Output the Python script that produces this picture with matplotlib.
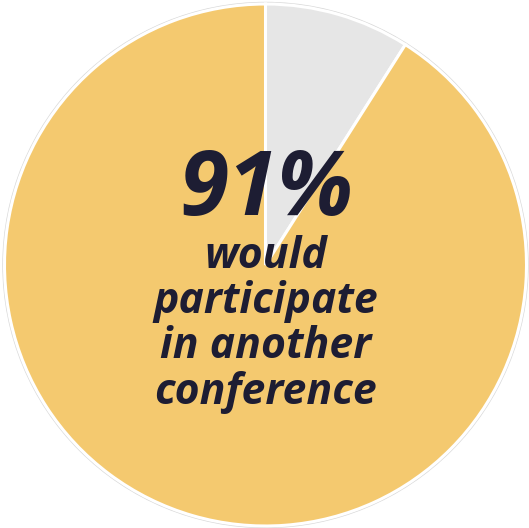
import matplotlib
matplotlib.use('Agg')
import matplotlib.pyplot as plt
from matplotlib.patches import Circle

# Data
labels = ['Would participate', 'Would not']
shares = [91, 9]
colors = ['#F4C96F', '#E6E6E6']
headline = '91%'
caption = ['would', 'participate', 'in another', 'conference']

W, H = 529, 528
fig = plt.figure(figsize=(W / 100, H / 100), dpi=100)
ax = fig.add_axes([0, 0, 1, 1])

cx, cy, r = 265.5, H - 265, 261

# faint outer ring
ax.add_patch(Circle((cx, cy), r + 1.5, facecolor='none', edgecolor='#d9d9d9', lw=1.0))

# pie: gray slice first clockwise from 12 o'clock
ax.pie(shares[::-1], colors=colors[::-1], startangle=90, counterclock=False,
       center=(cx, cy), radius=r, frame=True,
       wedgeprops=dict(edgecolor='white', linewidth=2.2))
ax.set_xlim(0, W)
ax.set_ylim(0, H)
ax.set_aspect('equal')
ax.axis('off')

txt_color = '#1D1D33'
ax.text(cx + 1, H - 215, headline, ha='center', va='baseline', fontsize=64,
        fontfamily='Open Sans', fontweight='bold', fontstyle='italic', color=txt_color)

baselines = [268, 313, 358, 404]
for line, yb in zip(caption, baselines):
    ax.text(cx, H - yb, line, ha='center', va='baseline', fontsize=30.8,
            fontfamily='Open Sans', fontweight='bold', fontstyle='italic', color=txt_color)

fig.savefig('out.png', dpi=100)
